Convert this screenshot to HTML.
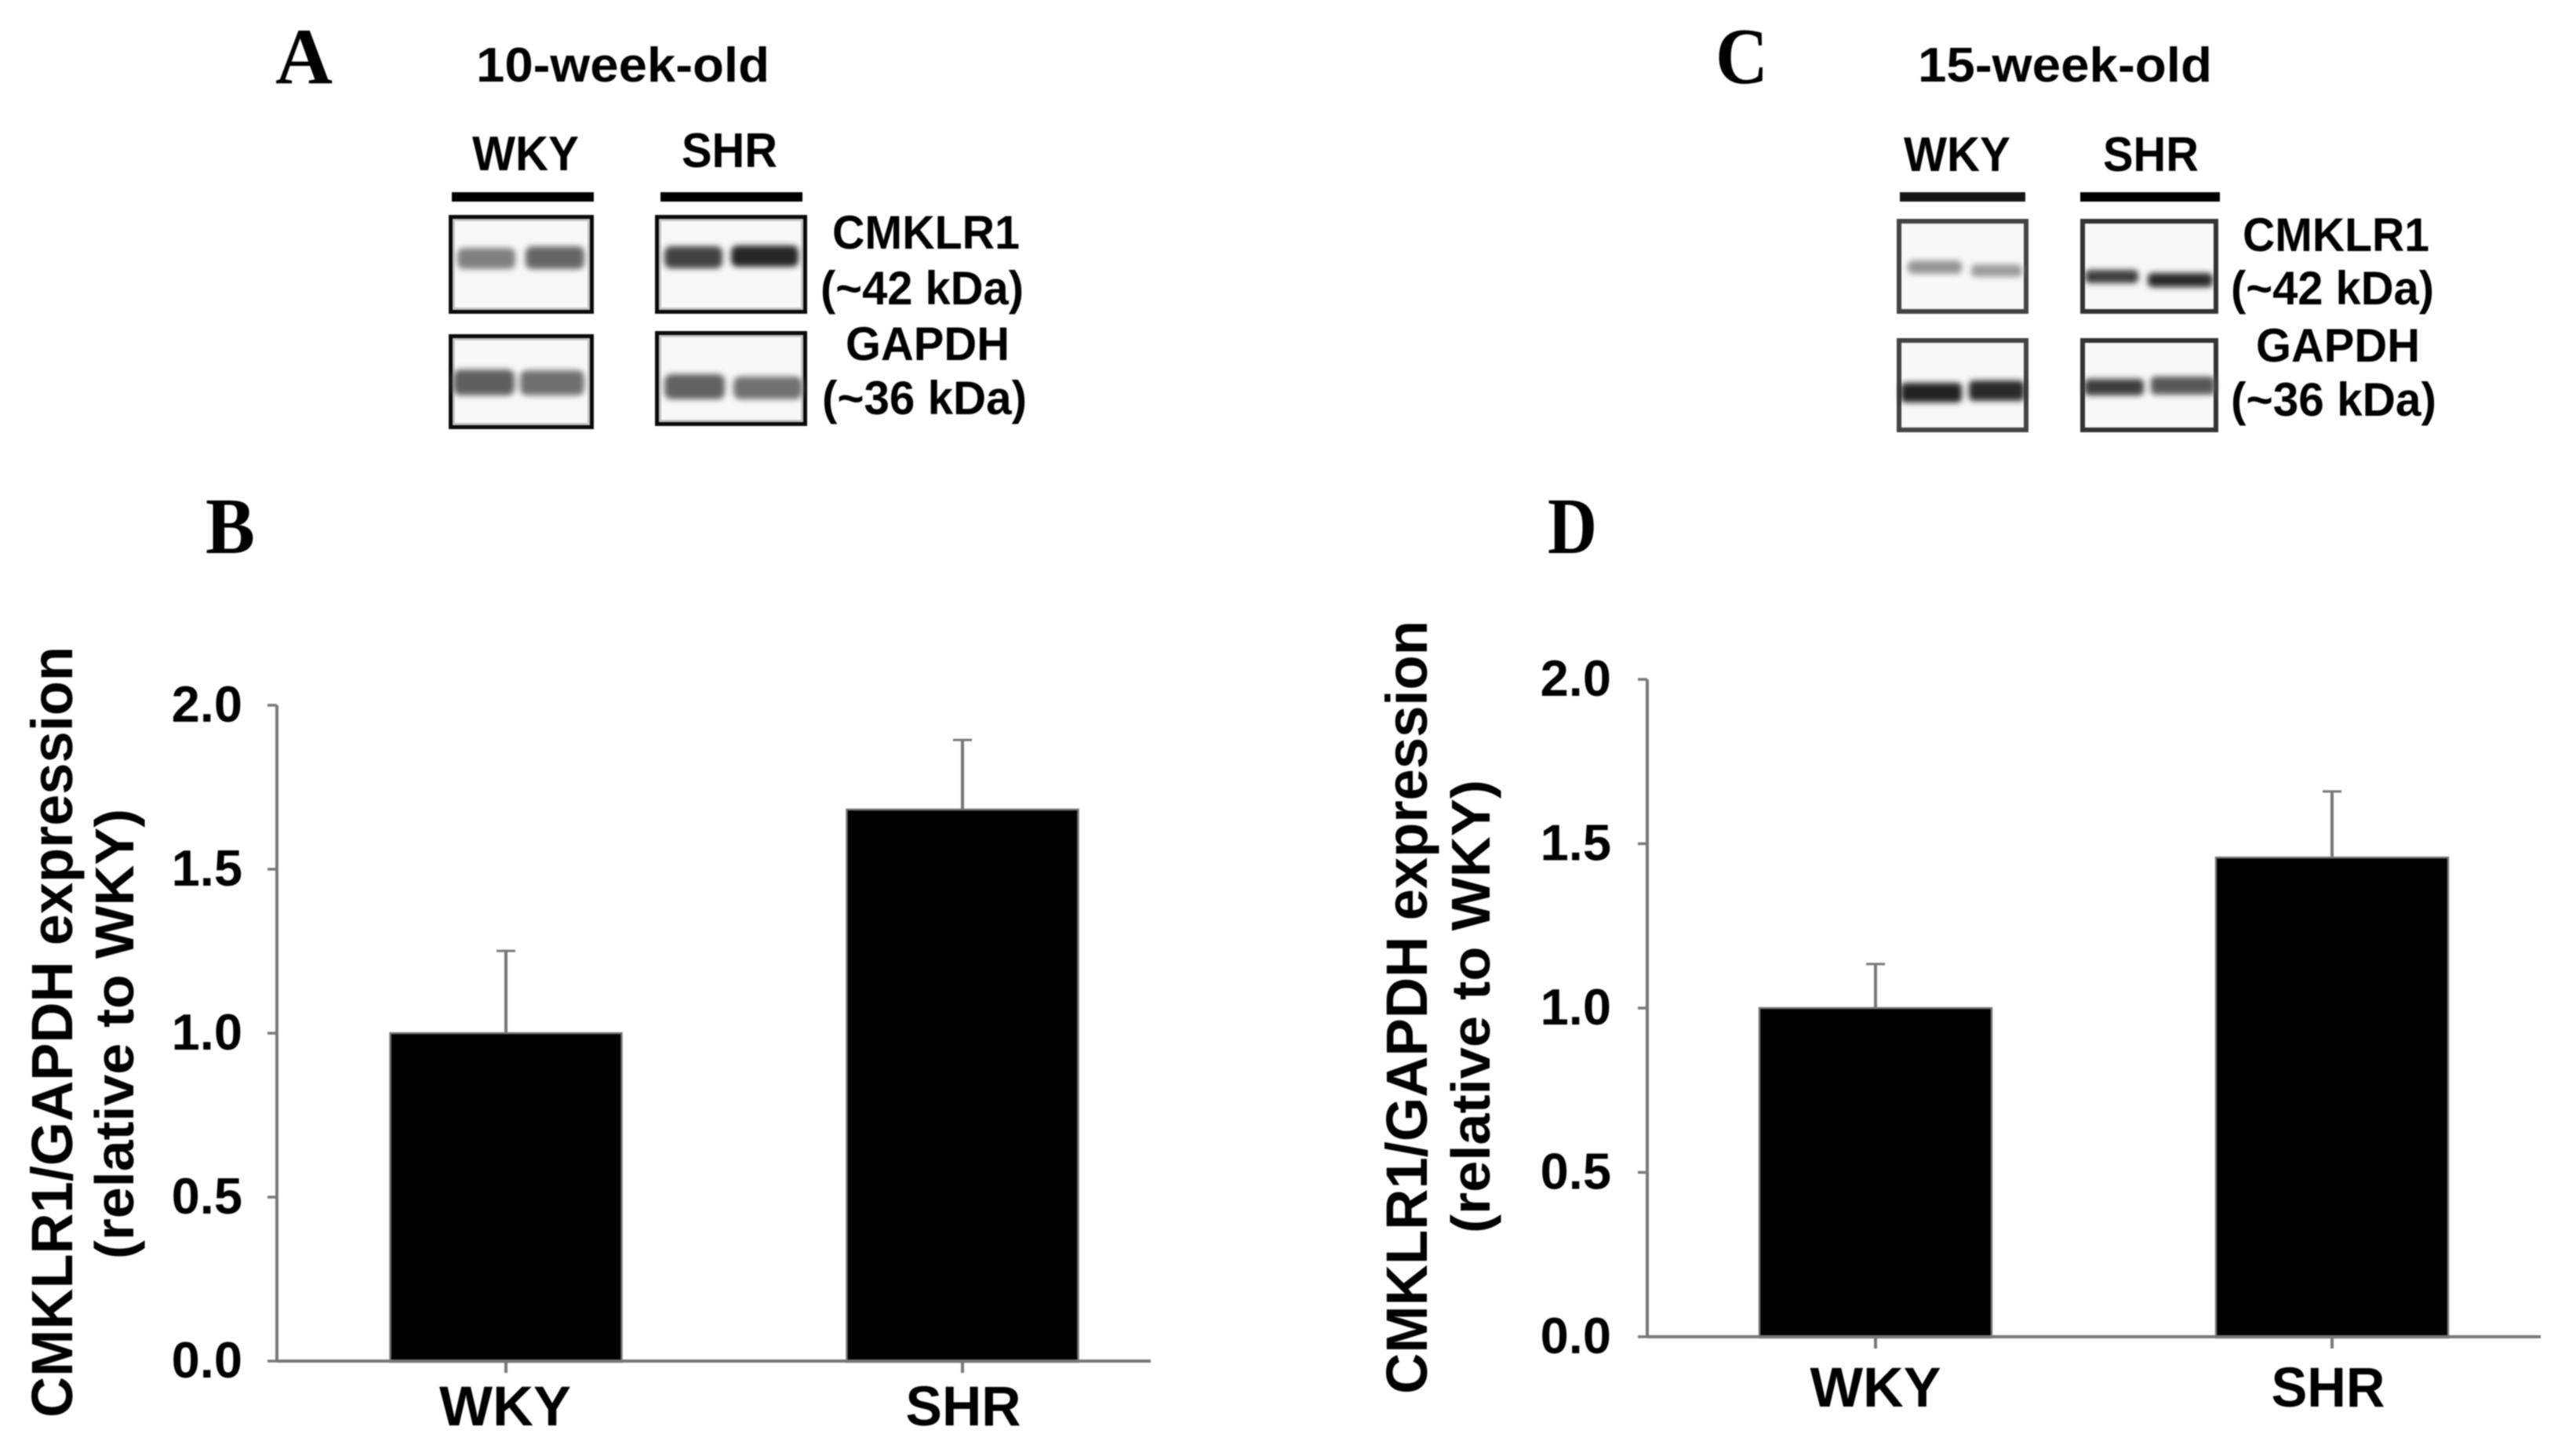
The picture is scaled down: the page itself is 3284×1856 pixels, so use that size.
<!DOCTYPE html>
<html>
<head>
<meta charset="utf-8">
<title>CMKLR1 expression</title>
<style>
html,body{margin:0;padding:0;background:#fff;width:3284px;height:1856px;overflow:hidden}
svg{display:block;filter:blur(.9px)}
text{font-family:"Liberation Sans",Arial,sans-serif;font-weight:bold;fill:#000}
.serif{font-family:"Liberation Serif","Times New Roman",serif}
.frame{fill:#f8f8f8;stroke:#0a0a0a;stroke-width:5}
.inner{fill:none;stroke:#c4c4c4;stroke-width:3}
</style>
</head>
<body>
<svg id="figure" xmlns="http://www.w3.org/2000/svg" width="3284" height="1856" viewBox="0 0 3284 1856">
<defs>
<filter id="soft" x="-20%" y="-80%" width="140%" height="260%"><feGaussianBlur stdDeviation="3.8"/></filter>
</defs>
<rect width="3284" height="1856" fill="#fff"/>

<!-- Panel letters -->
<text class="serif" x="351" y="106" font-size="102" textLength="73" lengthAdjust="spacingAndGlyphs">A</text>
<text class="serif" x="2187" y="106" font-size="102" textLength="67" lengthAdjust="spacingAndGlyphs">C</text>
<text class="serif" x="262" y="705" font-size="102" textLength="63" lengthAdjust="spacingAndGlyphs">B</text>
<text class="serif" x="1973" y="705" font-size="102" textLength="63" lengthAdjust="spacingAndGlyphs">D</text>

<!-- Panel A blots -->
<g>
<text x="607" y="104" font-size="62" textLength="374" lengthAdjust="spacingAndGlyphs">10-week-old</text>
<text x="602" y="217" font-size="62" textLength="136" lengthAdjust="spacingAndGlyphs">WKY</text>
<text x="869" y="213" font-size="62" textLength="122" lengthAdjust="spacingAndGlyphs">SHR</text>
<rect x="576" y="245" width="181" height="12" fill="#000"/>
<rect x="842" y="245" width="181" height="12" fill="#000"/>

<rect class="frame" x="574.5" y="276.5" width="180" height="121"/>
<rect class="inner" x="578.5" y="280.5" width="172" height="113"/>
<rect class="frame" x="837.5" y="276.5" width="189" height="121"/>
<rect class="inner" x="841.5" y="280.5" width="181" height="113"/>
<rect class="frame" x="574.5" y="428.5" width="180" height="116"/>
<rect class="inner" x="578.5" y="432.5" width="172" height="108"/>
<rect class="frame" x="837.5" y="424.5" width="189" height="116"/>
<rect class="inner" x="841.5" y="428.5" width="181" height="108"/>

<g filter="url(#soft)">
<rect x="583" y="316" width="74" height="27" rx="8" fill="#808080"/>
<rect x="670" y="314" width="75" height="29" rx="8" fill="#666"/>
<rect x="847" y="314" width="74" height="28" rx="8" fill="#424242"/>
<rect x="932" y="313" width="86" height="27" rx="8" fill="#262626"/>
<rect x="578" y="471" width="78" height="33" rx="9" fill="#5e5e5e"/>
<rect x="663" y="472" width="82" height="32" rx="9" fill="#6f6f6f"/>
<rect x="847" y="477" width="77" height="32" rx="9" fill="#626262"/>
<rect x="935" y="480" width="88" height="29" rx="9" fill="#717171"/>
</g>

<text x="1061" y="317" font-size="60" textLength="239" lengthAdjust="spacingAndGlyphs">CMKLR1</text>
<text x="1046" y="388" font-size="60" textLength="259" lengthAdjust="spacingAndGlyphs">(~42 kDa)</text>
<text x="1078" y="459" font-size="60" textLength="209" lengthAdjust="spacingAndGlyphs">GAPDH</text>
<text x="1048" y="528" font-size="60" textLength="261" lengthAdjust="spacingAndGlyphs">(~36 kDa)</text>
</g>

<!-- Panel C blots -->
<g>
<text x="2445" y="104" font-size="62" textLength="375" lengthAdjust="spacingAndGlyphs">15-week-old</text>
<text x="2427" y="218" font-size="62" textLength="136" lengthAdjust="spacingAndGlyphs">WKY</text>
<text x="2681" y="218" font-size="62" textLength="122" lengthAdjust="spacingAndGlyphs">SHR</text>
<rect x="2422" y="245" width="160" height="12" fill="#161616"/>
<rect x="2652" y="245" width="178" height="12" fill="#000"/>

<rect class="frame" x="2421" y="282" width="162" height="115" style="stroke:#444;stroke-width:6"/>
<rect class="frame" x="2655" y="282" width="170" height="115" style="stroke:#333;stroke-width:6"/>
<rect class="frame" x="2421" y="434" width="162" height="114" style="stroke:#444;stroke-width:6"/>
<rect class="frame" x="2655" y="434" width="170" height="114" style="stroke:#333;stroke-width:6"/>

<g filter="url(#soft)">
<rect x="2432" y="332" width="69" height="17" rx="6" fill="#959595"/>
<rect x="2513" y="337" width="65" height="16" rx="6" fill="#9d9d9d"/>
<rect x="2658" y="344" width="68" height="17" rx="6" fill="#3c3c3c"/>
<rect x="2738" y="348" width="83" height="18" rx="6" fill="#2c2c2c"/>
<rect x="2423" y="488" width="78" height="25" rx="6" fill="#242424"/>
<rect x="2510" y="485" width="71" height="26" rx="6" fill="#292929"/>
<rect x="2657" y="483" width="76" height="21" rx="6" fill="#3e3e3e"/>
<rect x="2742" y="480" width="82" height="23" rx="6" fill="#585858"/>
</g>

<text x="2859" y="320" font-size="60" textLength="238" lengthAdjust="spacingAndGlyphs">CMKLR1</text>
<text x="2844" y="388" font-size="60" textLength="259" lengthAdjust="spacingAndGlyphs">(~42 kDa)</text>
<text x="2876" y="461" font-size="60" textLength="209" lengthAdjust="spacingAndGlyphs">GAPDH</text>
<text x="2844" y="530" font-size="60" textLength="262" lengthAdjust="spacingAndGlyphs">(~36 kDa)</text>
</g>

<!-- Y axis titles -->
<text transform="translate(92,1807) rotate(-90)" font-size="74" textLength="983" lengthAdjust="spacingAndGlyphs">CMKLR1/GAPDH expression</text>
<text transform="translate(170,1605) rotate(-90)" font-size="70" textLength="574" lengthAdjust="spacingAndGlyphs">(relative to WKY)</text>
<text transform="translate(1819,1777) rotate(-90)" font-size="74" textLength="986" lengthAdjust="spacingAndGlyphs">CMKLR1/GAPDH expression</text>
<text transform="translate(1899,1572) rotate(-90)" font-size="70" textLength="578" lengthAdjust="spacingAndGlyphs">(relative to WKY)</text>

<g id="chart-b"></g>
<g id="chart-d"></g>
</svg>

<script>
const categories = ['WKY', 'SHR'];
const yTickLabels = ['0.0', '0.5', '1.0', '1.5', '2.0'];
const panelBMeans = [1.0, 1.682];
const panelBErrors = [0.251, 0.212];
const panelDMeans = [1.0, 1.458];
const panelDErrors = [0.134, 0.201];

const SVG_NS = 'http://www.w3.org/2000/svg';
const AXIS_COLOR = '#777';

function makeEl(parent, tag, attrs) {
  const el = document.createElementNS(SVG_NS, tag);
  for (const key in attrs) el.setAttribute(key, attrs[key]);
  parent.appendChild(el);
  return el;
}

function drawChart(groupId, layout, means, errors) {
  const group = document.getElementById(groupId);
  const yMin = parseFloat(yTickLabels[0]);
  const yMax = parseFloat(yTickLabels[yTickLabels.length - 1]);
  const yScale = function (v) {
    return layout.y0 + (v - yMin) / (yMax - yMin) * (layout.yTop - layout.y0);
  };
  const xCenter = function (i) {
    return layout.firstCenter + i * layout.step;
  };

  categories.forEach(function (name, i) {
    const cx = xCenter(i);
    const key = name.toLowerCase();
    const top = yScale(means[i]);
    const cap = yScale(means[i] + errors[i]);

    const stem = makeEl(group, 'line', { x1: cx, x2: cx, y1: top, y2: cap, stroke: AXIS_COLOR, 'stroke-width': 4 });
    
    

    const capLine = makeEl(group, 'line', { x1: cx - 12, x2: cx + 12, y1: cap, y2: cap, stroke: AXIS_COLOR, 'stroke-width': 3 });
    
    

    const bar = makeEl(group, 'rect', {
      x: cx - layout.barWidth / 2,
      y: top,
      width: layout.barWidth,
      height: yScale(0) - top + 1,
      fill: '#000',
      stroke: AXIS_COLOR,
      'stroke-width': 2.5
    });
    
    

    const tick = makeEl(group, 'line', { x1: cx, x2: cx, y1: layout.y0 + 2, y2: layout.y0 + 15, stroke: AXIS_COLOR, 'stroke-width': 4 });
    
    

    const label = makeEl(group, 'text', {
      x: cx + layout.labelShift[i],
      y: layout.labelBaseline,
      'font-size': 71,
      'text-anchor': 'middle',
      textLength: layout.labelWidth[i],
      lengthAdjust: 'spacingAndGlyphs'
    });
    label.textContent = name;
    
    
  });

  const yAxis = makeEl(group, 'line', { x1: layout.xAxis, x2: layout.xAxis, y1: layout.yTop, y2: layout.y0, stroke: AXIS_COLOR, 'stroke-width': 4 });
  
  

  const xAxis = makeEl(group, 'line', { x1: layout.xAxis, x2: layout.xEnd, y1: layout.y0, y2: layout.y0, stroke: AXIS_COLOR, 'stroke-width': 4 });
  
  

  yTickLabels.forEach(function (text) {
    const y = yScale(parseFloat(text));

    const tick = makeEl(group, 'line', { x1: layout.xAxis - 12, x2: layout.xAxis, y1: y, y2: y, stroke: AXIS_COLOR, 'stroke-width': 3.5 });
    
    

    const label = makeEl(group, 'text', { x: layout.tickLabelRight, y: y + 21, 'font-size': 65, 'text-anchor': 'end' });
    label.textContent = text;
    
    
  });
}

drawChart('chart-b', {
  xAxis: 353, xEnd: 1467, y0: 1735, yTop: 899,
  firstCenter: 645, step: 582, barWidth: 295,
  labelBaseline: 1817, tickLabelRight: 309,
  labelShift: [-1, 1], labelWidth: [168, 147]
}, panelBMeans, panelBErrors);

drawChart('chart-d', {
  xAxis: 2100, xEnd: 3239, y0: 1704, yTop: 866,
  firstCenter: 2391, step: 582, barWidth: 296,
  labelBaseline: 1793, tickLabelRight: 2054,
  labelShift: [0, -5], labelWidth: [167, 145]
}, panelDMeans, panelDErrors);
</script>
</body>
</html>
